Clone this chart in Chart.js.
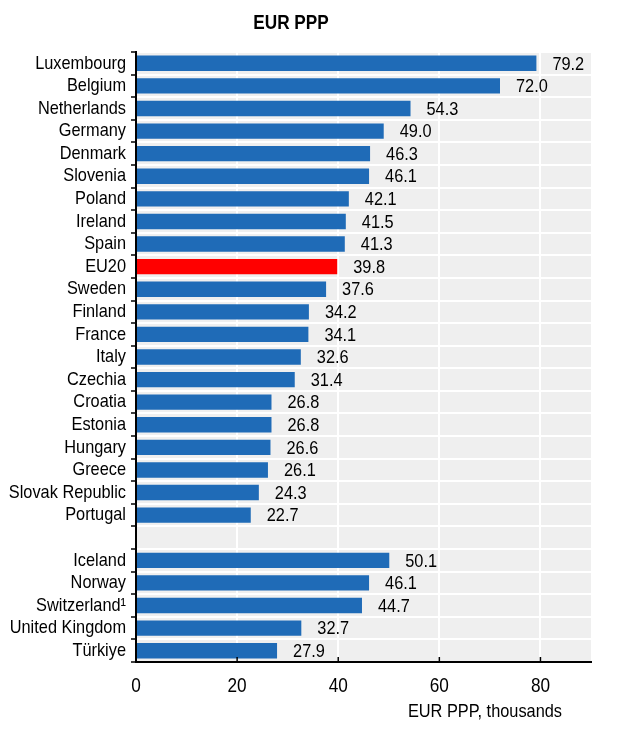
<!DOCTYPE html>
<html>
<head>
<meta charset="utf-8">
<script src="https://cdn.jsdelivr.net/npm/chart.js@4.4.1/dist/chart.umd.min.js"></script>
<style>
html,body{margin:0;padding:0;background:#fff;}
#wrap{width:634px;height:732px;position:relative;}
</style>
</head>
<body>
<div id="wrap"><canvas id="c"></canvas></div>
<script>
const chartTitle = 'EUR PPP';
const xAxisTitle = 'EUR PPP, thousands';
const categories = ['Luxembourg','Belgium','Netherlands','Germany','Denmark','Slovenia','Poland','Ireland','Spain','EU20','Sweden','Finland','France','Italy','Czechia','Croatia','Estonia','Hungary','Greece','Slovak Republic','Portugal','','Iceland','Norway','Switzerland\u00B9','United Kingdom','T\u00FCrkiye'];
const values = [79.2,72.0,54.3,49.0,46.3,46.1,42.1,41.5,41.3,39.8,37.6,34.2,34.1,32.6,31.4,26.8,26.8,26.6,26.1,24.3,22.7,null,50.1,46.1,44.7,32.7,27.9];
const highlight = ['EU20'];
const xTicks = [0,20,40,60,80];
const xMax = 90;

const FONT = '"Liberation Sans", Arial, sans-serif';
const BLUE = '#1f6bb7';
const RED = '#ff0000';
const NARROW = 0.86; // horizontal condensing to mimic a narrow typeface

// Condense all canvas text horizontally (anchored at the text position)
const canvas = document.getElementById('c');
const ctx0 = canvas.getContext('2d');
const origFill = ctx0.fillText;
const origMeasure = ctx0.measureText;
ctx0.fillText = function(t, x, y, mw){
  this.save();
  this.translate(x, y);
  this.scale(NARROW, 1);
  origFill.call(this, t, 0, 0);
  this.restore();
};
ctx0.measureText = function(t){
  const m = origMeasure.call(this, t);
  return { width: m.width * NARROW, actualBoundingBoxAscent: m.actualBoundingBoxAscent, actualBoundingBoxDescent: m.actualBoundingBoxDescent };
};

const customPlugin = {
  id: 'custom',
  beforeDraw(chart){
    const {ctx, chartArea:a} = chart;
    ctx.save();
    ctx.fillStyle = '#efefef';
    ctx.fillRect(a.left, a.top, a.right - a.left, a.bottom - a.top);
    ctx.restore();
  },
  afterDatasetsDraw(chart){
    const {ctx, chartArea:a} = chart;
    const meta = chart.getDatasetMeta(0);
    ctx.save();
    ctx.fillStyle = '#000';
    ctx.font = '19px ' + FONT;
    ctx.textAlign = 'left';
    ctx.textBaseline = 'middle';
    meta.data.forEach((el, i) => {
      const v = values[i];
      if (v == null) return;
      ctx.fillText(v.toFixed(1), el.x + 16, el.y + 1);
    });
    // inner tick marks on x axis
    const xs = chart.scales.x;
    ctx.strokeStyle = '#000';
    ctx.lineWidth = 1.5;
    xTicks.forEach(t => {
      if (t === 0) return;
      const px = xs.getPixelForValue(t);
      ctx.beginPath();
      ctx.moveTo(px, a.bottom);
      ctx.lineTo(px, a.bottom - 5);
      ctx.stroke();
    });
    // chart title
    ctx.font = 'bold 20px ' + FONT;
    ctx.textAlign = 'center';
    ctx.fillText(chartTitle, 291, 23);
    // x axis title
    ctx.font = '19px ' + FONT;
    ctx.textAlign = 'right';
    ctx.fillText(xAxisTitle, a.right - 29, 712);
    ctx.restore();
  }
};

new Chart(canvas, {
  type: 'bar',
  data: {
    labels: categories,
    datasets: [{
      data: values,
      backgroundColor: categories.map(c => highlight.includes(c) ? RED : BLUE),
      borderWidth: 0,
      barPercentage: 0.68,
      categoryPercentage: 1.0
    }]
  },
  options: {
    indexAxis: 'y',
    responsive: true,
    maintainAspectRatio: false,
    animation: false,
    layout: { padding: { top: 52, right: 43, left: 0, bottom: 0 } },
    plugins: { legend: { display: false }, tooltip: { enabled: false }, title: { display: false } },
    scales: {
      x: {
        type: 'linear',
        min: 0,
        max: xMax,
        afterBuildTicks(scale){ scale.ticks = xTicks.map(v => ({value: v})); },
        afterFit(scale){ scale.height = 70; },
        grid: { color: '#ffffff', lineWidth: 2, drawTicks: false },
        border: { display: true, color: '#000', width: 2 },
        ticks: { color: '#000', font: { family: FONT, size: 20 }, padding: 12, maxRotation: 0 }
      },
      y: {
        type: 'category',
        afterFit(scale){ scale.width = 136; },
        grid: { offset: true, color: '#ffffff', lineWidth: 2, tickColor: '#000', tickLength: 5, tickWidth: 1.5 },
        border: { display: true, color: '#000', width: 2 },
        ticks: { color: '#000', font: { family: FONT, size: 19 }, padding: 5, autoSkip: false }
      }
    }
  },
  plugins: [customPlugin]
});
</script>
</body>
</html>
